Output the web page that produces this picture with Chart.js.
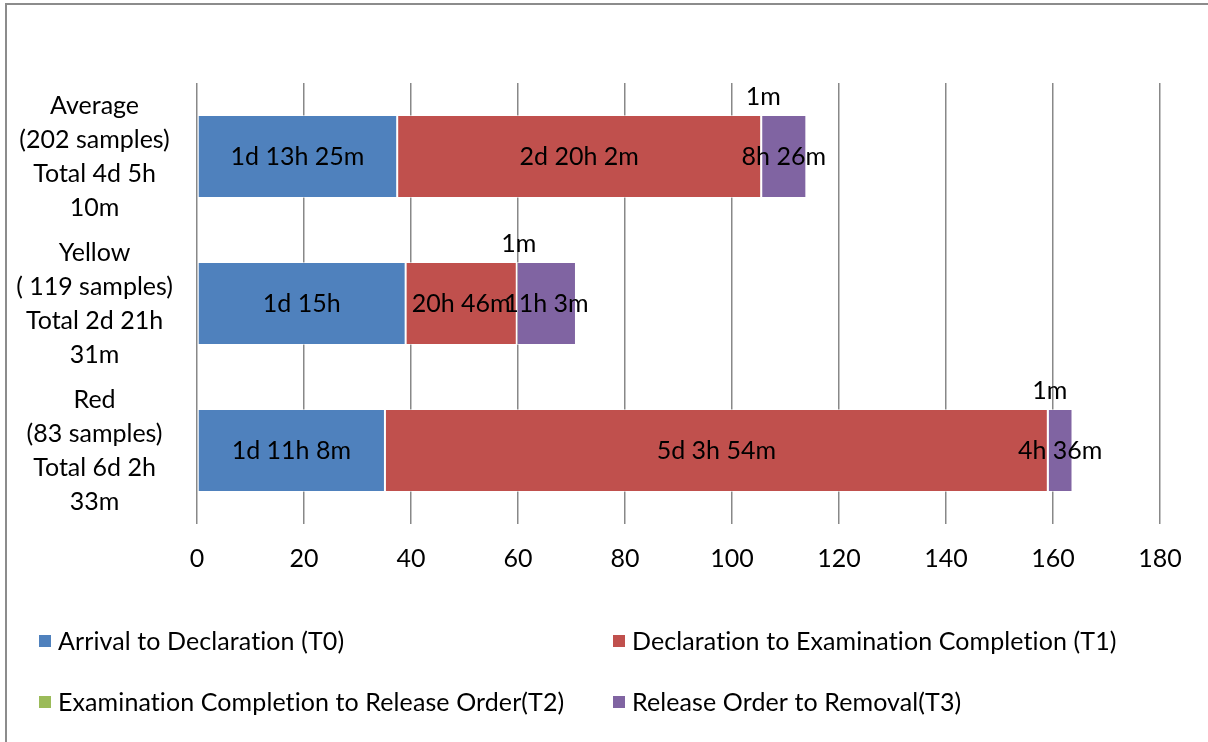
<!DOCTYPE html>
<html><head><meta charset="utf-8">
<script src="https://cdn.jsdelivr.net/npm/chart.js@4/dist/chart.umd.min.js"></script>
<style>
html,body{margin:0;padding:0;background:#fff;overflow:hidden;width:1208px;height:742px;}
#frame{position:absolute;left:5px;top:3px;width:1400px;height:1000px;border:2px solid #8c8c8c;box-sizing:border-box;}
#c{position:absolute;left:0;top:0;}
</style></head><body>
<div id="frame"></div>
<canvas id="c" width="1208" height="742"></canvas>
<script>
const categories = [
  ["Average", "(202 samples)", "Total 4d 5h", "10m"],
  ["Yellow", "( 119 samples)", "Total 2d 21h", "31m"],
  ["Red", "(83 samples)", "Total 6d 2h", "33m"]
];
const seriesNames = [
  "Arrival to Declaration (T0)",
  "Declaration to Examination Completion (T1)",
  "Examination Completion to Release Order(T2)",
  "Release Order to Removal(T3)"
];
// durations in hours
const t0Hours = [37.42, 39.00, 35.13];
const t1Hours = [68.03, 20.77, 123.90];
const t2Hours = [0.0167, 0.0167, 0.0167];
const t3Hours = [8.43, 11.05, 4.60];
const xTicks = [0, 20, 40, 60, 80, 100, 120, 140, 160, 180];
const seriesColors = ["#4F81BD", "#C0504D", "#9BBB59", "#8064A2"];

const FONT = "Lato, Calibri, Carlito, sans-serif";
const FS = 25;

function fmtDuration(h) {
  const total = Math.round(h * 60);
  const d = Math.floor(total / 1440);
  const hh = Math.floor((total % 1440) / 60);
  const m = total % 60;
  const parts = [];
  if (d) parts.push(d + "d");
  if (hh) parts.push(hh + "h");
  if (m) parts.push(m + "m");
  return parts.join(" ");
}

const allSeries = [t0Hours, t1Hours, t2Hours, t3Hours];

const labelPlugin = {
  id: "segLabels",
  afterDatasetsDraw(chart) {
    const ctx = chart.ctx;
    ctx.save();
    ctx.font = FS + "px " + FONT;
    ctx.fillStyle = "#000";
    ctx.textAlign = "center";
    ctx.textBaseline = "middle";
    chart.data.datasets.forEach((ds, i) => {
      const meta = chart.getDatasetMeta(i);
      meta.data.forEach((el, j) => {
        let x = (el.x + el.base) / 2;
        let y = el.y;
        if (i === 2) { y = el.y - el.height / 2 - 18; x += 2; }
        ctx.fillText(fmtDuration(ds.data[j]), x, y);
      });
    });
    ctx.restore();
  }
};

const legendPlugin = {
  id: "gridLegend",
  afterDraw(chart) {
    const ctx = chart.ctx;
    const pos = [[39, 641], [613, 641], [39, 702], [613, 702]];
    ctx.save();
    ctx.font = FS + "px " + FONT;
    if ("letterSpacing" in ctx) ctx.letterSpacing = "0.1px";
    ctx.textBaseline = "middle";
    ctx.textAlign = "left";
    chart.data.datasets.forEach((ds, i) => {
      const [x, y] = pos[i];
      ctx.fillStyle = ds.backgroundColor;
      ctx.fillRect(x, y - 6, 12, 12);
      ctx.fillStyle = "#000";
      ctx.fillText(ds.label, x + 19, y + 1);
    });
    ctx.restore();
  }
};

new Chart(document.getElementById("c"), {
  type: "bar",
  data: {
    labels: categories,
    datasets: allSeries.map((vals, i) => ({
      label: seriesNames[i],
      data: vals,
      backgroundColor: seriesColors[i],
      borderColor: "rgba(255,255,255,0.55)",
      borderWidth: 1,
      borderSkipped: false,
      categoryPercentage: 1,
      barPercentage: 0.565
    }))
  },
  options: {
    indexAxis: "y",
    responsive: false,
    animation: false,
    layout: { padding: { top: 83, right: 48, left: 0, bottom: 0 } },
    plugins: { legend: { display: false }, tooltip: { enabled: false } },
    scales: {
      x: {
        stacked: true,
        min: 0, max: 180,
        afterBuildTicks(scale) { scale.ticks = xTicks.map(v => ({ value: v })); },
        afterFit(scale) { scale.height = 742 - 524; scale.paddingLeft = 0; scale.paddingRight = 0; },
        grid: { color: "#888", lineWidth: 1.5, drawTicks: false },
        border: { display: false },
        ticks: { color: "#000", font: { family: FONT, size: FS }, padding: 20 }
      },
      y: {
        stacked: true,
        afterFit(scale) { scale.width = 197; scale.paddingTop = 0; scale.paddingBottom = 0; },
        grid: { display: false, drawTicks: false },
        border: { display: false },
        ticks: {
          color: "#000",
          crossAlign: "center",
          padding: 24,
          font: { family: FONT, size: FS, lineHeight: "34px" }
        }
      }
    }
  },
  plugins: [labelPlugin, legendPlugin]
});
</script>
</body></html>
